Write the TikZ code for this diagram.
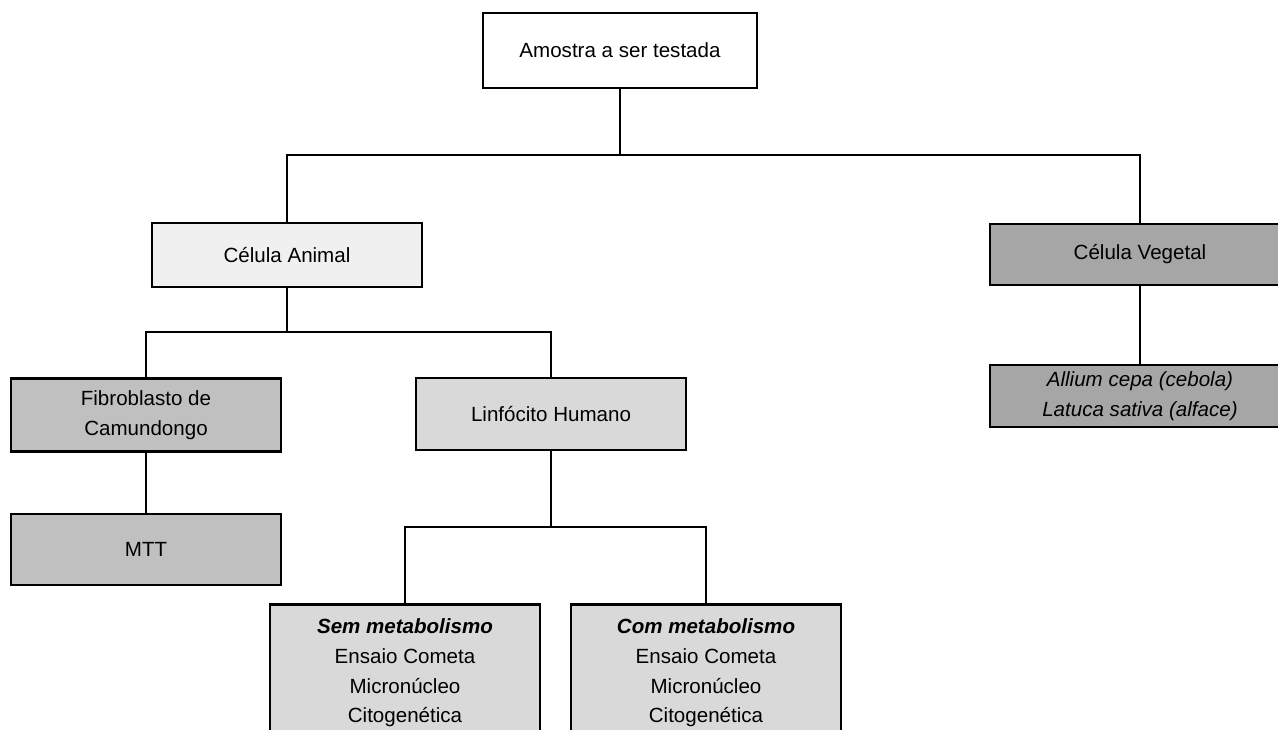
\documentclass[tikz,border=0pt]{standalone}
\usepackage{fontspec}
\setmainfont{Liberation Sans}
\usepackage{tikz}
\usetikzlibrary{positioning}
\definecolor{PaleGray}{HTML}{F0F0F0}
\definecolor{MidGray}{HTML}{C0C0C0}
\definecolor{LightGray}{HTML}{D9D9D9}
\definecolor{DarkGray}{HTML}{A6A6A6}

\begin{document}
\begin{tikzpicture}[
    x=0.02cm, y=-0.02cm,
    box/.style={draw=black, line width=0.055cm, minimum width=5.4cm, align=center, inner sep=0pt, font=\fontsize{11.7}{17}\selectfont},
    wide/.style={box, minimum width=6cm},
    testbox/.style={box, fill=LightGray, anchor=north, inner ysep=0.28cm},
    link/.style={draw=black, line width=0.045cm}
  ]
    \clip (0,0) rectangle (1278,730);
    \node[box, fill=white, minimum width=5.48cm, minimum height=1.5cm] (amostra) at (620,50.5) {Amostra a ser testada};
    \node[box, fill=PaleGray, minimum height=1.28cm] (animal) at (287,255) {Célula Animal};
    \node[wide, fill=DarkGray, minimum height=1.22cm] (vegetal) at (1140,254.5) {Célula Vegetal};
    \node[box, fill=MidGray, minimum height=1.46cm] (fibro) at (146,415) {Fibroblasto de\\Camundongo};
    \node[box, fill=LightGray, minimum height=1.44cm] (linfo) at (551,414) {Linfócito Humano};
    \node[box, fill=MidGray, minimum height=1.42cm] (mtt) at (146,549.5) {MTT};
    \node[wide, fill=DarkGray, minimum height=1.24cm] (allium) at (1140,396) {\itshape Allium cepa (cebola)\\\itshape Latuca sativa (alface)};
    \node[testbox] (sem) at (405,603) {\textbf{\textit{Sem metabolismo}}\\Ensaio Cometa\\Micronúcleo\\Citogenética\\[10pt]};
    \node[testbox] (com) at (706,603) {\textbf{\textit{Com metabolismo}}\\Ensaio Cometa\\Micronúcleo\\Citogenética\\[10pt]};
    % junctions
    \coordinate (jtop) at (620,155);
    \coordinate (janimal) at (287,332);
    \coordinate (jlinfo) at (551,527);
    \draw[link] (amostra) -- (jtop);
    \draw[link] (animal.north) |- (jtop) -| (vegetal.north);
    \draw[link] (animal) -- (janimal);
    \draw[link] (fibro.north) |- (janimal) -| (linfo.north);
    \draw[link] (fibro) -- (mtt);
    \draw[link] (vegetal) -- (allium);
    \draw[link] (linfo) -- (jlinfo);
    \draw[link] (sem.north) |- (jlinfo) -| (com.north);
  \end{tikzpicture}
\end{document}
